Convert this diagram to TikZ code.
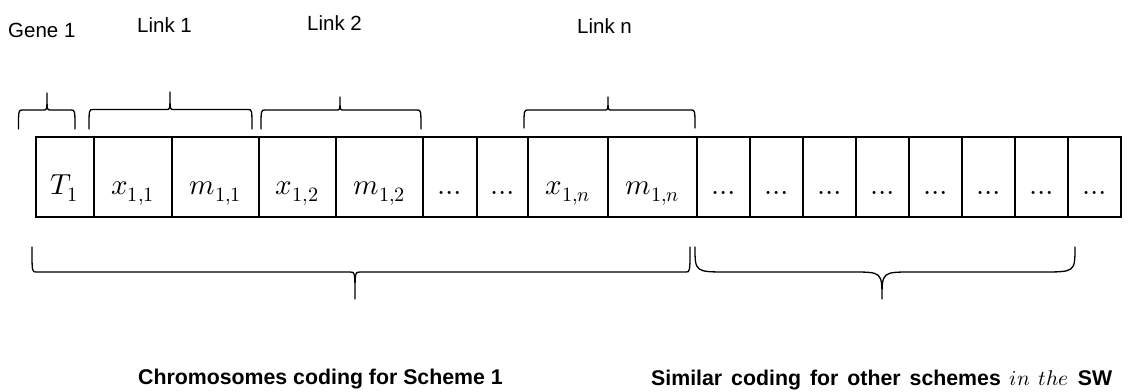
\documentclass[tikz,border=0pt]{standalone}
\usepackage{fontspec}
\setmainfont{Liberation Sans}
\usepackage{unicode-math}
\setmathfont{Latin Modern Math}

% Word-style curly brace: x-left, x-right, tip x, end y, bar y, tip y, end curl, tip curl
\newcommand\curlyspan[8]{%
  \draw[bracepath] (#1,#4) .. controls (#1,#5) and (#1,#5) .. ({#1+#7},#5)
    -- ({#3-#8},#5) .. controls (#3,#5) and (#3,#5) .. (#3,#6)
    .. controls (#3,#5) and (#3,#5) .. ({#3+#8},#5)
    -- ({#2-#7},#5) .. controls (#2,#5) and (#2,#5) .. (#2,#4);}

\begin{document}
\begin{tikzpicture}[x=1pt,y=-1pt,
  cell/.style={draw, line width=1.6pt, rectangle, inner sep=0pt,
    minimum height=80pt, text height=40pt, text depth=6pt,
    font=\fontsize{29}{34}\selectfont},
  bracepath/.style={line width=1.3pt, line join=round, line cap=round},
  toplabel/.style={inner sep=0pt, font=\fontsize{20.5}{24}\selectfont},
  caption/.style={inner sep=0pt, font=\fontsize{21.3}{25}\selectfont\bfseries}]
\useasboundingbox (0,0) rectangle (1130,391);

% the chromosome string
\foreach \xa/\xb/\txt [count=\i] in {
  35.7/93.7/{$T_1$}, 93.7/172/{$x_{1,1}$}, 172/259/{$m_{1,1}$},
  259/336/{$x_{1,2}$}, 336/423/{$m_{1,2}$}, 423/477/{$\ldots$},
  477/528/{$\ldots$}, 528/608/{$x_{1,n}$}, 608/697/{$m_{1,n}$},
  697/750/{$\ldots$}, 750/803/{$\ldots$}, 803/856/{$\ldots$},
  856/909/{$\ldots$}, 909/962/{$\ldots$}, 962/1015/{$\ldots$},
  1015/1068/{$\ldots$}, 1068/1121/{$\ldots$}}
  \node[cell, minimum width={(\xb-\xa)*1pt}] (c\i) at ({(\xa+\xb)/2},177) {\txt};

% braces above the string
\curlyspan{18.5}{75}{47}{129}{110}{93}{4}{3}
\curlyspan{89}{252}{170}{129}{109.5}{92}{4}{3}
\curlyspan{261}{421}{340}{129}{110}{97}{4}{3}
\curlyspan{524}{695}{608}{128}{110}{97}{4}{3}

% braces below the string
\curlyspan{32}{690}{355}{247}{272}{299}{4}{5}
\curlyspan{695}{1075}{882}{247}{272}{299}{33}{30}

% labels
\node[toplabel, anchor=base west] (gene) at (8,37) {Gene 1};
\node[toplabel, anchor=base west] (link1) at (137,32) {Link 1};
\node[toplabel, anchor=base west] (link2) at (307,30) {Link 2};
\node[toplabel, anchor=base west] (linkn) at (577,33) {Link n};

\node[caption, anchor=base west] (scheme1) at (138,384) {Chromosomes coding for Scheme 1};
\node[caption, anchor=base west] (others) at (651,385)
  {\makebox[461pt][s]{Similar coding for other schemes $in\ the$ SW}};
\end{tikzpicture}
\end{document}
